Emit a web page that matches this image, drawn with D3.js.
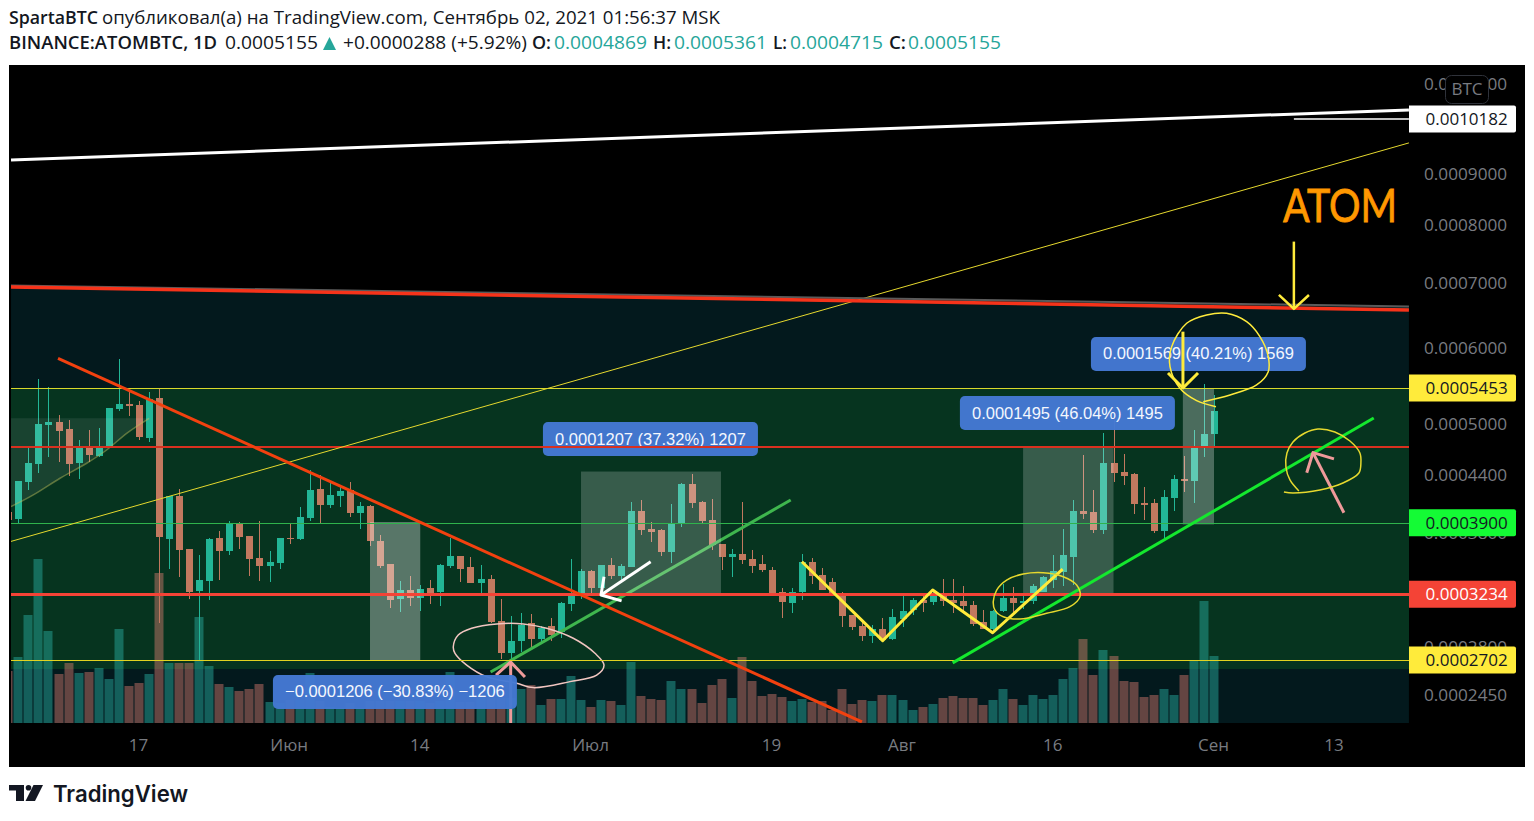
<!DOCTYPE html>
<html><head><meta charset="utf-8">
<script src="https://cdn.jsdelivr.net/npm/d3@7"></script>
<style>html,body{margin:0;padding:0;background:#fff;overflow:hidden}svg{display:block}</style>
</head><body><svg id="c" width="1534" height="821"></svg>
<script>
// Prices are in units of 0.0000001 BTC; first candle is 4 May 2021, one per day.
const firstDay = "2021-05-04";
const open = [4010,3938,4326,4526,4984,5021,4935,4537,4733,4617,4721,5183,5247,5234,4827,5324,3741,4176,3645,3262,3350,3750,3626,3888,3770,3560,3486,3514,3750,3741,3948,4251,4082,4176,4240,3999,4072,3721,3504,3194,3271,3202,3289,3254,3486,3579,3477,3332,3368,3009,2755,2848,2993,2864,2968,2920,3151,3245,3440,3289,3495,3395,3477,4020,3838,3828,3616,3888,4305,4113,3928,3693,3569,3598,3550,3504,3449,3254,3160,3254,3523,3404,3341,3237,3059,2968,2888,2944,2864,3025,3100,3185,3168,3228,3185,3177,3143,3001,2944,3092,3202,3160,3177,3254,3359,3431,3569,4020,4010,3828,4537,4436,4414,4103,4103,3818,4155,4359,4337,4721,4869];
const high = [4051,4337,4709,5573,5468,5107,5045,4803,4923,4947,5196,5848,5402,5285,5402,5454,4176,4251,3645,3588,3750,3818,3918,3908,3770,3918,3626,3750,3898,4061,4458,4403,4326,4273,4326,4113,4082,3780,3504,3350,3395,3315,3359,3504,3750,3579,3569,3495,3404,3194,3050,3075,3067,2968,3034,3168,3550,3458,3449,3495,3560,3504,4113,4134,3908,3838,4092,4315,4414,4124,4145,3693,3645,4113,3635,3588,3477,3289,3289,3598,3560,3467,3377,3254,3059,3017,2977,3034,3109,3219,3202,3228,3271,3368,3368,3306,3177,3100,3100,3324,3297,3219,3324,3395,3588,3838,4134,4628,4240,4887,5045,4640,4425,4273,4145,4240,4403,4617,4923,5507,5361];
const low = [3888,3888,4240,4425,4605,4548,4392,4359,4548,4605,4709,5157,5095,4803,4780,2993,3458,3386,3194,2702,3185,3359,3588,3645,3395,3350,3341,3458,3693,3731,3918,3898,4051,4061,3959,3838,3674,3467,3117,3083,3134,3092,3151,3134,3467,3341,3332,3245,2993,2710,2672,2763,2801,2833,2848,2872,3092,3194,3245,3245,3368,3332,3477,3780,3712,3579,3514,3858,4051,3898,3635,3449,3386,3504,3422,3431,3245,3034,3075,3185,3324,3271,3237,2960,2936,2848,2833,2848,2856,2960,3059,3083,3143,3134,3075,3083,2968,2944,2912,3083,3083,3109,3151,3254,3289,3306,3315,3938,3799,3789,4326,4294,3989,3928,3799,3731,4020,4219,4103,4605,4715];
const close = [3928,4337,4537,4996,5021,4911,4526,4733,4628,4733,5196,5247,5221,4839,5311,3760,4176,3635,3254,3359,3741,3626,3898,3760,3550,3486,3523,3750,3741,3959,4240,4082,4187,4229,3999,4072,3721,3486,3185,3271,3202,3280,3245,3495,3579,3458,3332,3368,3001,2755,2848,2977,2864,2952,2896,3160,3228,3440,3289,3495,3395,3486,4020,3828,3809,3616,3898,4305,4103,3918,3683,3569,3598,3541,3486,3449,3245,3168,3254,3523,3395,3271,3237,3050,2960,2888,2944,2856,3042,3092,3185,3160,3219,3177,3160,3134,2985,2944,3092,3202,3160,3177,3306,3386,3440,3588,4020,3989,3828,4537,4425,4392,4092,4082,3818,4166,4359,4337,4721,4875,5155];
const volume = [52,66,108,164,92,49,60,50,51,55,44,94,37,40,49,150,60,60,60,106,57,39,36,32,34,39,21,20,23,23,50,22,16,15,20,15,22,22,22,22,22,22,20,22,51,21,21,25,25,25,25,34,38,18,24,24,47,23,16,23,22,18,61,27,24,23,42,34,34,20,38,44,25,66,42,27,29,26,22,24,21,22,13,34,19,23,22,28,28,23,13,16,19,25,27,25,25,18,23,34,24,18,28,24,28,44,55,84,48,73,67,42,41,26,28,34,28,48,62,122,67];

const timeTicks = ["2021-05-17","2021-06-01","2021-06-14","2021-07-01","2021-07-19","2021-08-01","2021-08-16","2021-09-01","2021-09-13"];
const timeLabels = ["17","Июн","14","Июл","19","Авг","16","Сен","13"];
const priceTicks = [11000,9000,8000,7000,6000,5000,4400,3800,2800,2450];
const levelResist = 5453, levelMid = 4721, levelGreen = 3900, levelRed = 3234, levelSupport = 2702, levelTop = 10182;
const priceTags = [10182,5453,3900,3234,2702];

// Drawings: [days after first candle, price]
const whiteRay = [[0.27,9285],[139.4,10391]];
const whiteStub = [[127.95,10182],[139.4,10182]];
const yellowRay = [[0.27,3717],[139.4,9649]];
const greyRay = [[0.27,6958],[139.4,6624]];
const redRay = [[0.27,6934],[139.4,6569]];
const downTrend = [[4.95,5855],[84.96,2262]];
const softTrend = [[48.0,2612],[77.87,4134]];
const brightTrend = [[93.99,2680],[135.9,5070]];
const zigzag = [[78.99,3525],[87.02,2851],[92.0,3271],[97.97,2914],[104.94,3458]];
const oliveCurve = [[0.27,4064],[2.49,4187],[5.15,4367],[7.8,4534],[9.79,4686],[11.78,4883],[14.03,5066]];
const oliveFill = [[0.27,5066],...oliveCurve];
const arrowYellowA = [[[127.95,7704],[127.95,6585]],[[126.46,6805],[127.95,6585],[129.45,6805]]];
const arrowYellowB = [[[116.91,6241],[116.91,5454]],[[115.42,5655],[116.91,5454],[118.41,5655]]];
const arrowPinkA = [[[132.93,4002],[129.85,4655]],[[129.23,4428],[129.85,4655],[131.94,4583]]];
const arrowPinkB = [[[50,2255],[50,2687]],[[48.54,2590],[50,2687],[51.42,2575]]];
const arrowWhite = [[[63.93,3525],[58.99,3228]],[[59.29,3389],[58.99,3228],[61.04,3177]]];
const ringPink = [[44.29,2804],[44.78,2896],[46.12,2950],[48.61,2985],[51.25,2985],[53.58,2950],[56.23,2870],[58.39,2753],[59.29,2664],[58.56,2590],[55.9,2542],[52.25,2499],[50.6,2530],[47.6,2578],[45.62,2664],[44.46,2753]];
const ringYellowA = [[98.03,3171],[98.37,3271],[99.36,3359],[101.01,3413],[103.0,3425],[105.0,3389],[106.33,3315],[106.66,3214],[105.66,3128],[103.34,3073],[100.69,3025],[99.03,3044],[98.2,3100]];
const ringYellowB = [[120.2,5212],[118.27,5289],[116.61,5450],[115.62,5741],[115.79,6023],[117.28,6366],[119.27,6492],[121.26,6518],[123.25,6390],[124.57,6168],[125.4,5881],[125.4,5673],[124.24,5494],[121.6,5363],[118.93,5276]];
const ringYellowC = [[128.45,4229],[127.56,4348],[127.16,4492],[127.26,4651],[127.86,4780],[129.05,4887],[130.34,4935],[132.03,4899],[133.53,4791],[134.52,4651],[134.62,4537],[134.42,4425],[132.83,4315],[130.54,4240],[127.86,4208],[126.96,4219]];

// Measured ranges: [day from, day to, price low, price high]
const rangeBoxes = [[36.0,41.0,2702,3908],[57.0,70.93,3234,4441],[101.0,110.0,3234,4729],[116.9,120.0,3884,5453]];
const rangeAlpha = [0.33,0.2,0.2,0.28];
const rangeTexts = ["−0.0001206 (−30.83%) −1206","0.0001207 (37.32%) 1207","0.0001495 (46.04%) 1495","0.0001569 (40.21%) 1569"];
// label centre: [day, price]
const rangeTextAt = [[38.48,2468],[63.91,4815],[105.41,5132],[118.45,5919]];

const W = 1534, H = 821;
const svg = d3.select("#c");
const LOG_OFFSET = 1000;               // TradingView's log scale offset
const parse = d3.utcParse("%Y-%m-%d");
const t0 = parse(firstDay).getTime();
const dayDate = d => new Date(t0 + d * 864e5);
const dates = open.map((_, i) => dayDate(i));

const x = d3.scaleUtc().domain([dayDate(0), dayDate(120)]).range([8.3, 1214]);
const yLog = d3.scaleLog().domain([levelTop + LOG_OFFSET, levelSupport + LOG_OFFSET]).range([119, 660]);
const y = p => yLog(p + LOG_OFFSET);
const yVol = d3.scaleLinear().domain([0, d3.max(volume)]).range([723, 559]);
const px = d => x(dayDate(d));

const PLOT = {l: 11, r: 1409, t: 65, b: 723};
const COL = {up:"#22b696", down:"#c1795f", volUp:"rgba(38,166,154,.5)", volDown:"rgba(235,130,120,.42)"};

svg.append("rect").attr("x",9).attr("y",65).attr("width",1516).attr("height",702).attr("fill","#000");
svg.append("defs").append("clipPath").attr("id","plot").append("rect")
  .attr("x",PLOT.l).attr("y",PLOT.t).attr("width",PLOT.r-PLOT.l).attr("height",PLOT.b-PLOT.t);
const g = svg.append("g").attr("clip-path","url(#plot)");

const lineGen = d3.line().x(d => px(d[0])).y(d => y(d[1]));
const curveGen = d3.line().x(d => px(d[0])).y(d => y(d[1])).curve(d3.curveCatmullRom.alpha(.5));
const closedGen = d3.line().x(d => px(d[0])).y(d => y(d[1])).curve(d3.curveCatmullRomClosed.alpha(.5));
const stroke = (sel, path, col, w, extra) => sel.append("path").attr("d",path).attr("fill","none")
  .attr("stroke",col).attr("stroke-width",w).attr("stroke-linecap",extra||"butt").attr("stroke-linejoin","round");
const hline = (sel, p, col, w) => sel.append("line").attr("x1",PLOT.l).attr("x2",PLOT.r).attr("y1",Math.round(y(p))+(w%2?0.5:0)).attr("y2",Math.round(y(p))+(w%2?0.5:0)).attr("stroke",col).attr("stroke-width",w);

// bands
const bottomPrice = yLog.invert(PLOT.b) - LOG_OFFSET;
const bandPoly = [...greyRay,[139.4,bottomPrice],[0.27,bottomPrice]];
g.append("path").attr("d",lineGen(bandPoly)+"Z").attr("fill","#03191d");
const greenBandLow = yLog.invert(669) - LOG_OFFSET;
g.append("rect").attr("x",PLOT.l).attr("width",PLOT.r-PLOT.l).attr("y",y(levelResist)).attr("height",y(greenBandLow)-y(levelResist)).attr("fill","#06341f");

// volume
g.append("g").selectAll("rect").data(volume).join("rect")
  .attr("x",(d,i)=>Math.round(x(dates[i]))-4.5).attr("width",9)
  .attr("y",d=>yVol(d)).attr("height",d=>yVol(0)-yVol(d))
  .attr("fill",(d,i)=>close[i]>=open[i]?COL.volUp:COL.volDown);

// candles
const cg = g.append("g").attr("shape-rendering","crispEdges");
cg.selectAll("rect.w").data(open).join("rect").attr("class","w")
  .attr("x",(d,i)=>Math.round(x(dates[i]))-.5).attr("width",1)
  .attr("y",(d,i)=>y(high[i])).attr("height",(d,i)=>y(low[i])-y(high[i]))
  .attr("fill",(d,i)=>close[i]>=open[i]?COL.up:COL.down);
cg.selectAll("rect.b").data(open).join("rect").attr("class","b")
  .attr("x",(d,i)=>Math.round(x(dates[i]))-3.5).attr("width",7)
  .attr("y",(d,i)=>y(Math.max(open[i],close[i])))
  .attr("height",(d,i)=>Math.max(1,Math.abs(y(open[i])-y(close[i]))))
  .attr("fill",(d,i)=>close[i]>=open[i]?COL.up:COL.down);

// lines lying under the translucent ranges
stroke(g, lineGen(softTrend), "#3fb64e", 3);
g.append("path").attr("d",lineGen(oliveFill)+"Z").attr("fill","rgba(255,255,255,.08)");
stroke(g, curveGen(oliveCurve), "rgba(190,190,90,.45)", 1.5);

// ranges
g.selectAll("rect.rng").data(rangeBoxes).join("rect").attr("class","rng")
  .attr("x",d=>px(d[0])).attr("width",d=>px(d[1])-px(d[0]))
  .attr("y",d=>y(d[3])).attr("height",d=>y(d[2])-y(d[3]))
  .attr("fill",(d,i)=>`rgba(255,255,255,${rangeAlpha[i]})`);

// pink arrow behind the label, ring too
stroke(g, closedGen(ringPink), "#f2c6c1", 1.5);
arrowPinkB.forEach(a=>stroke(g,lineGen(a),"#ef9a9a",3));

// range labels
const LABW = [244,215,215,215], LABH = 34;
rangeTexts.forEach((t,i)=>{
  const cx = px(rangeTextAt[i][0]), cy = y(rangeTextAt[i][1]);
  g.append("rect").attr("x",cx-LABW[i]/2).attr("y",cy-LABH/2).attr("width",LABW[i]).attr("height",LABH).attr("rx",5).attr("fill","#4479d3").attr("fill-opacity",.97);
  g.append("text").attr("x",cx).attr("y",cy+5.5).attr("text-anchor","middle").attr("fill","#f4f7fd")
   .attr("font-family","'Liberation Sans',Arial,sans-serif").attr("font-size",16.5).text(t);
});

// horizontal levels
hline(g, levelResist, "#d9d92b", 1);
hline(g, levelMid, "#d9301f", 2);
hline(g, levelGreen, "#2fb44c", 1);
hline(g, levelSupport, "#e2d320", 1);
hline(g, levelRed, "#f44336", 3);

// rays
stroke(g, lineGen(yellowRay), "#e6d92e", 1);
stroke(g, lineGen(greyRay), "#5a5a5a", 2);
stroke(g, lineGen(redRay), "#f6331a", 3.5);
stroke(g, lineGen(whiteRay), "#ffffff", 3);
stroke(g, lineGen(whiteStub), "#ffffff", 1.5);
stroke(g, lineGen(downTrend), "#f2410f", 3);
stroke(g, lineGen(brightTrend), "#14e82e", 3);
stroke(g, lineGen(zigzag), "#ffeb3b", 3);
arrowWhite.forEach(a=>stroke(g,lineGen(a),"#ffffff",3));
arrowYellowA.forEach(a=>stroke(g,lineGen(a),"#ffeb3b",2.5));
arrowYellowB.forEach(a=>stroke(g,lineGen(a),"#ffeb3b",3));
arrowPinkA.forEach(a=>stroke(g,lineGen(a),"#ef9a9a",3));
stroke(g, closedGen(ringYellowA), "#e6d92e", 1.5);
stroke(g, curveGen(ringYellowB), "#ffeb3b", 1.5);
stroke(g, curveGen(ringYellowC), "#e6d92e", 1.5);

// ATOM
svg.append("text").attr("x",1283).attr("y",222).attr("fill","#ff9800").attr("stroke","#ff9800").attr("stroke-width",.8).attr("font-family","Lato,sans-serif")
  .attr("font-size",47).attr("textLength",114).attr("lengthAdjust","spacingAndGlyphs").text("ATOM");

// axes
const AXCOL = "#787b80";
const yAxis = d3.axisRight(yLog).tickValues(priceTicks.map(p=>p+LOG_OFFSET))
  .tickFormat(v=>((v-LOG_OFFSET)/1e7).toFixed(7)).tickSize(0).tickPadding(0);
const ya = svg.append("g").attr("transform","translate(1424,0)").call(yAxis);
ya.select(".domain").remove();
ya.selectAll("text").attr("fill",AXCOL).attr("font-family","'Open Sans',sans-serif").attr("font-size",17.2);

const xAxis = d3.axisBottom(x).tickValues(timeTicks.map(parse)).tickFormat((d,i)=>timeLabels[i]).tickSize(0).tickPadding(0);
const xa = svg.append("g").attr("transform","translate(-1,737)").call(xAxis);
xa.select(".domain").remove();
xa.selectAll("text").attr("fill",AXCOL).attr("font-family","'Open Sans',sans-serif").attr("font-size",17).attr("dy","0").attr("y",14);

// BTC button
svg.append("rect").attr("x",1445.5).attr("y",75.5).attr("width",43).attr("height",28).attr("rx",6).attr("fill","#000").attr("stroke","#2f323a");
svg.append("text").attr("x",1467).attr("y",95).attr("text-anchor","middle").attr("fill",AXCOL).attr("font-family","'Open Sans',sans-serif").attr("font-size",17).text("BTC");

// price tags
const tagFill = ["#ffffff","#ffeb3b","#14fb35","#f44336","#ffeb3b"];
const tagText = ["#131722","#131722","#131722","#ffffff","#131722"];
priceTags.forEach((p,i)=>{
  const c = y(p);
  svg.append("path").attr("d",`M1409 ${c-13.5}H1514a2 2 0 0 1 2 2V${c+11.5}a2 2 0 0 1 -2 2H1409Z`).attr("fill",tagFill[i]);
  svg.append("text").attr("x",1425.5).attr("y",c+6).attr("fill",tagText[i]).attr("font-family","'Open Sans',sans-serif").attr("font-size",17)
    .text((p/1e7).toFixed(7));
});

// header
const HF = "'Open Sans',sans-serif", HC = "#131722", TEAL = "#26a69a";
const head = (xp, yp, s, col, bold, w) => svg.append("text").attr("x",xp).attr("y",yp).attr("fill",col).attr("font-family",HF)
  .attr("font-size",18).attr("font-weight",bold?600:400).attr("textLength",w).attr("lengthAdjust","spacingAndGlyphs").text(s);
head(9,24,"SpartaBTC",HC,true,89);
head(102,24,"опубликовал(а) на TradingView.com, Сентябрь 02, 2021 01:56:37 MSK",HC,false,618);
head(9,49,"BINANCE:ATOMBTC, 1D",HC,true,208);
head(225,49,"0.0005155",HC,false,93);
svg.append("path").attr("d","M323 50L329.5 37L336 50Z").attr("fill",TEAL);
head(343,49,"+0.0000288 (+5.92%)",HC,false,184);
head(532,49,"O:",HC,true,19); head(554,49,"0.0004869",TEAL,false,93);
head(653,49,"H:",HC,true,18); head(674,49,"0.0005361",TEAL,false,93);
head(773,49,"L:",HC,true,14); head(790,49,"0.0004715",TEAL,false,93);
head(889,49,"C:",HC,true,17); head(908,49,"0.0005155",TEAL,false,93);

// TradingView wordmark
const logo = svg.append("g").attr("fill","#131722");
logo.append("path").attr("d","M9 785H24V801H16V790.5H9Z");
logo.append("circle").attr("cx",28.5).attr("cy",787.8).attr("r",2.8);
logo.append("path").attr("d","M33.5 785H43L35 801H25.5Z");
svg.append("text").attr("x",53).attr("y",801.5).attr("fill","#131722").attr("font-family","Inter,sans-serif").attr("font-weight",600).attr("font-size",22.5).attr("textLength",135).attr("lengthAdjust","spacingAndGlyphs").text("TradingView");
</script></body></html>
